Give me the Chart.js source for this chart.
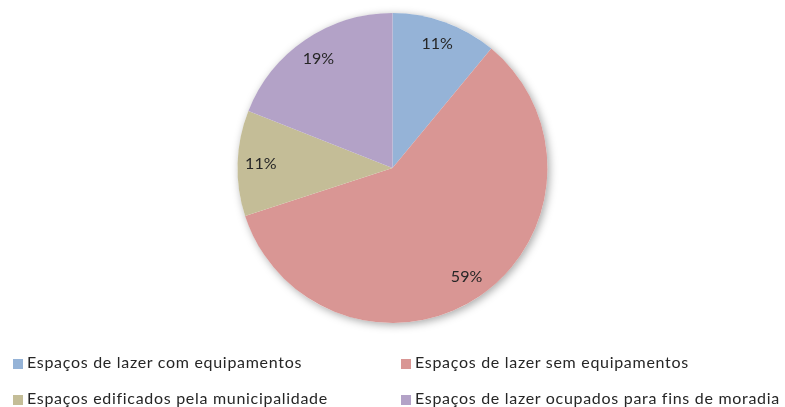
<!DOCTYPE html>
<html>
<head>
<meta charset="utf-8">
<script src="https://cdn.jsdelivr.net/npm/chart.js@4"></script>
<style>
    html, body { margin: 0; padding: 0; background: #fff; }
    #wrap { position: relative; width: 785px; height: 407px; }
    #legend { position: absolute; left: 0; top: 0; width: 785px; height: 407px; pointer-events: none; }
    .item { position: absolute; font-family: Lato, sans-serif; font-size: 16px; letter-spacing: 0.7px; color: #262626; white-space: nowrap; line-height: 18px; }
    .item span { display: inline-block; width: 10px; height: 10px; margin-right: 4px; vertical-align: -1px; }
</style>
</head>
<body>
<div id="wrap">
    <canvas id="pieChart" width="785" height="407"></canvas>
    <div id="legend"></div>
</div>
<script>
const categories = [
    'Espaços de lazer com equipamentos',
    'Espaços de lazer sem equipamentos',
    'Espaços edificados pela municipalidade',
    'Espaços de lazer ocupados para fins de moradia'
];
const values = [11, 59, 11, 19];
const colors = ['#95B3D7', '#D99694', '#C4BD97', '#B3A2C7'];

//..soft shadow under the whole pie
const pieShadow = {
    id: 'pieShadow',
    beforeDatasetsDraw(chart) {
        const arc = chart.getDatasetMeta(0).data[0];
        if (!arc) return;
        const ctx = chart.ctx;
        ctx.save();
        ctx.shadowColor = 'rgba(0,0,0,0.35)';
        ctx.shadowBlur = 9;
        ctx.shadowOffsetX = 2;
        ctx.shadowOffsetY = 2;
        ctx.fillStyle = '#fff';
        ctx.beginPath();
        ctx.arc(arc.x, arc.y, arc.outerRadius, 0, Math.PI * 2);
        ctx.fill();
        ctx.restore();
    }
};

//..percent labels inside the slices
const sliceLabels = {
    id: 'sliceLabels',
    afterDatasetsDraw(chart) {
        const ctx = chart.ctx;
        const total = values.reduce((a, b) => a + b, 0);
        ctx.save();
        ctx.font = '16px Lato, sans-serif';
        ctx.fillStyle = '#262626';
        ctx.textAlign = 'center';
        ctx.textBaseline = 'middle';
        chart.getDatasetMeta(0).data.forEach((arc, i) => {
            const mid = (arc.startAngle + arc.endAngle) / 2;
            const r = arc.outerRadius * 0.85;
            const x = arc.x + Math.cos(mid) * r;
            const y = arc.y + Math.sin(mid) * r;
            ctx.fillText(Math.round(values[i] / total * 100) + '%', x, y);
        });
        ctx.restore();
    }
};

new Chart(document.getElementById('pieChart'), {
    type: 'pie',
    data: {
        labels: categories,
        datasets: [{
            data: values,
            backgroundColor: colors,
            borderWidth: 0
        }]
    },
    options: {
        responsive: false,
        animation: false,
        layout: { padding: { top: 13, bottom: 84, left: 0, right: 0 } },
        plugins: {
            legend: { display: false },
            tooltip: { enabled: false }
        }
    },
    plugins: [pieShadow, sliceLabels]
});

//..two column legend under the pie
const legendPos = [[13, 353], [401, 353], [13, 389], [401, 389]];
const legend = document.getElementById('legend');
categories.forEach((cat, i) => {
    const el = document.createElement('div');
    el.className = 'item';
    el.style.left = legendPos[i][0] + 'px';
    el.style.top = legendPos[i][1] + 'px';
    el.innerHTML = '<span style="background:' + colors[i] + '"></span>' + cat;
    legend.appendChild(el);
});
</script>
</body>
</html>
